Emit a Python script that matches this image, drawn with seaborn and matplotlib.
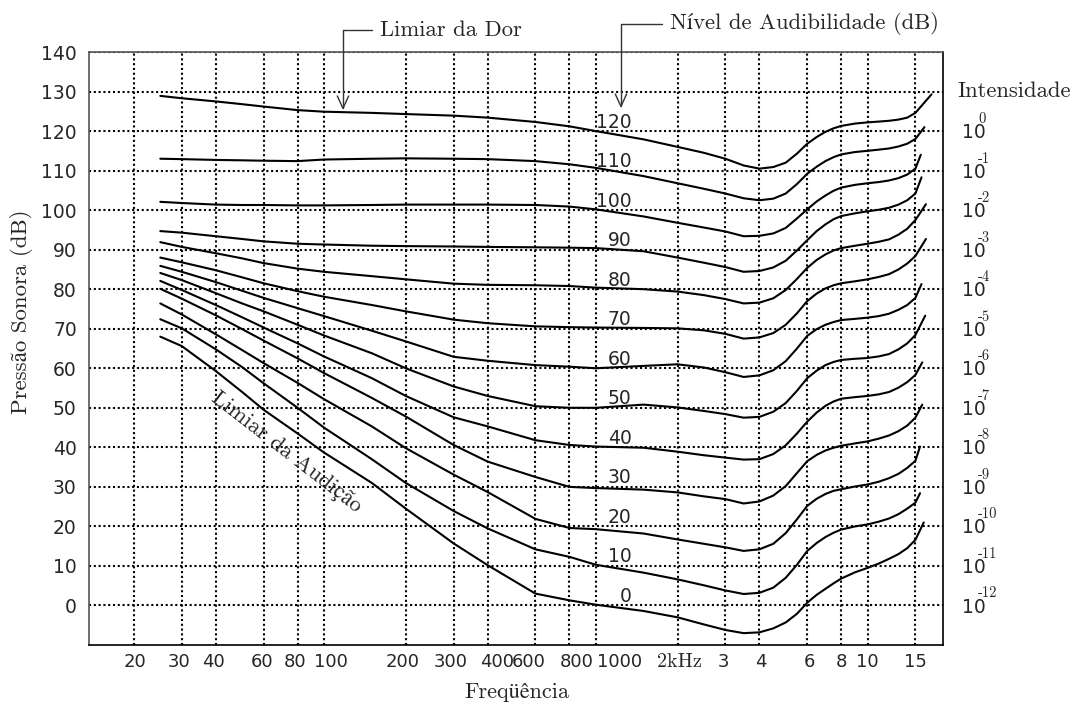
import matplotlib
matplotlib.use("Agg")
import matplotlib.pyplot as plt
import matplotlib.transforms as mtransforms
from matplotlib.ticker import NullLocator, FixedLocator
import numpy as np
import pandas as pd
import seaborn as sns

# ---------------- data ----------------
freqs = [25, 30, 40, 50, 60, 80, 100, 150, 200, 300, 400, 600, 800, 1000, 1500,
         2000, 2500, 3000, 3500, 4000, 4500, 5000, 5500, 6000, 6500, 7000, 7500, 8000,
         9000, 10000, 11000, 12000, 13000, 14000, 15000]

levels = [0, 10, 20, 30, 40, 50, 60, 70, 80, 90, 100, 110, 120]

spl_0 = [68.0, 65.6, 59.3, 54.0, 49.5, 43.5, 38.7, 31.0, 24.5, 15.7, 10.2, 3.0, 1.3, 0.2, -1.4,
         -3.0, -4.8, -6.2, -7.0, -6.8, -5.8, -4.3, -2.1, 0.7, 2.7, 4.2, 5.6, 6.8,
         8.4, 9.5, 10.6, 11.8, 13.0, 14.5, 16.6]
spl_10 = [72.4, 70.1, 64.8, 60.3, 56.2, 50.0, 45.0, 37.0, 31.0, 23.9, 19.5, 14.2, 12.3, 10.3, 8.3,
          6.6, 5.1, 3.8, 2.9, 3.2, 4.5, 7.0, 10.3, 13.8, 15.8, 17.3, 18.4, 19.2,
          20.0, 20.5, 21.2, 22.0, 23.1, 24.5, 26.0]
spl_20 = [76.4, 73.6, 68.6, 64.6, 61.3, 56.3, 52.2, 45.3, 39.8, 33.1, 28.7, 21.9, 19.6, 19.3, 18.2,
          16.7, 15.6, 14.7, 13.8, 14.2, 15.6, 18.3, 21.8, 25.2, 27.0, 28.2, 29.0, 29.4,
          30.1, 30.6, 31.3, 32.2, 33.3, 34.8, 36.6]
spl_30 = [80.1, 77.6, 73.4, 69.9, 67.0, 62.5, 58.8, 52.5, 47.8, 40.6, 36.4, 32.5, 30.0, 29.7, 29.3,
          28.6, 27.6, 26.9, 25.8, 26.3, 27.8, 30.2, 33.5, 36.5, 38.1, 39.2, 39.9, 40.4,
          41.0, 41.5, 42.2, 43.0, 44.1, 45.5, 47.5]
spl_40 = [82.1, 79.8, 76.0, 72.9, 70.3, 66.3, 63.0, 57.5, 53.0, 47.6, 45.3, 41.8, 40.6, 40.2, 39.9,
          38.9, 38.0, 37.4, 36.9, 37.0, 38.3, 40.5, 43.5, 46.5, 48.8, 50.5, 51.6, 52.3,
          52.7, 53.0, 53.4, 54.0, 55.1, 56.5, 58.3]
spl_50 = [84.1, 82.3, 79.0, 76.4, 74.4, 71.0, 68.3, 63.8, 60.0, 55.4, 53.0, 50.4, 50.0, 50.0, 50.8,
          50.1, 49.2, 48.4, 47.5, 47.7, 49.0, 51.2, 54.3, 57.5, 59.4, 60.8, 61.6, 62.1,
          62.4, 62.6, 63.0, 63.6, 64.8, 66.3, 68.4]
spl_60 = [85.9, 84.4, 81.8, 79.6, 77.8, 75.2, 73.2, 69.5, 66.8, 62.9, 61.9, 60.8, 60.4, 60.0, 60.6,
          61.0, 60.2, 59.0, 57.8, 58.2, 59.5, 61.8, 65.0, 68.2, 69.9, 71.0, 71.7, 72.2,
          72.5, 72.8, 73.2, 73.8, 74.8, 76.0, 77.8]
spl_70 = [88.0, 86.8, 84.8, 83.0, 81.5, 79.5, 78.1, 76.0, 74.4, 72.3, 71.4, 70.6, 70.4, 70.3, 70.2,
          70.1, 69.6, 68.7, 67.5, 67.8, 68.9, 71.0, 73.9, 77.0, 78.9, 80.2, 81.0, 81.5,
          82.0, 82.5, 83.1, 83.8, 85.0, 86.5, 88.4]
spl_80 = [91.9, 90.7, 89.1, 87.8, 86.6, 85.2, 84.4, 83.3, 82.5, 81.4, 81.1, 81.0, 80.8, 80.4, 80.0,
          79.4, 78.5, 77.5, 76.4, 76.6, 77.7, 79.8, 82.6, 85.4, 87.4, 88.8, 89.8, 90.4,
          91.0, 91.5, 92.0, 92.6, 93.8, 95.3, 97.5]
spl_90 = [94.7, 94.3, 93.4, 92.7, 92.1, 91.5, 91.3, 91.0, 90.9, 90.8, 90.7, 90.6, 90.5, 90.4, 89.6,
          88.0, 86.7, 85.6, 84.4, 84.6, 85.5, 87.2, 89.8, 92.4, 94.7, 96.4, 97.7, 98.5,
          99.2, 99.7, 100.1, 100.6, 101.4, 102.5, 104.2]
spl_100 = [102.1, 101.8, 101.4, 101.3, 101.3, 101.2, 101.2, 101.3, 101.4, 101.4, 101.4, 101.3, 100.9, 100.2, 98.4,
           96.8, 95.6, 94.6, 93.4, 93.5, 94.1, 95.5, 97.9, 100.2, 102.2, 103.7, 104.9, 105.7,
           106.4, 106.8, 107.1, 107.5, 108.1, 109.0, 110.5]
spl_110 = [113.0, 112.9, 112.7, 112.6, 112.5, 112.4, 112.8, 113.0, 113.1, 113.0, 112.9, 112.4, 111.6, 110.7, 108.6,
           106.8, 105.4, 104.2, 103.0, 102.5, 102.9, 104.2, 106.6, 109.2, 111.0, 112.4, 113.4, 114.1,
           114.7, 115.0, 115.3, 115.6, 116.1, 116.8, 118.0]
spl_120 = [128.9, 128.3, 127.5, 126.8, 126.2, 125.3, 124.9, 124.6, 124.3, 123.9, 123.4, 122.3, 121.2, 120.0, 117.9,
           116.0, 114.5, 113.0, 111.3, 110.5, 110.9, 112.0, 114.3, 116.8, 118.5, 119.8, 120.7, 121.3,
           121.9, 122.2, 122.4, 122.6, 122.9, 123.4, 124.6]

end_freqs = [16100, 15600, 15600, 15900, 15900, 16300, 15800, 16400, 16400, 15800, 15700, 16200, 17200]
end_spl = [21.0, 28.4, 40.2, 50.8, 61.5, 73.3, 81.3, 92.7, 101.5, 108.3, 114.0, 121.0, 129.3]

x_ticks = [20, 30, 40, 60, 80, 100, 200, 300, 400, 600, 800, 1000, 2000, 3000, 4000, 6000, 8000, 10000, 15000]
x_tick_labels = ["20", "30", "40", "60", "80", "100", "200", "300", "400", "600", "800", "1000",
                 "2kHz", "3", "4", "6", "8", "10", "15"]
y_ticks = [0, 10, 20, 30, 40, 50, 60, 70, 80, 90, 100, 110, 120, 130, 140]
intensity_levels = [120, 110, 100, 90, 80, 70, 60, 50, 40, 30, 20, 10, 0]
intensity_exponents = ["0", "-1", "-2", "-3", "-4", "-5", "-6", "-7", "-8", "-9", "-10", "-11", "-12"]

# horizontal nudges (pixels) of the x tick labels, as set in the original
x_label_nudge_px = [1, -3, -2.6, -1.7, -2.7, 7, -2.8, -3.4, 9, -6.5, 7.6, 24,
                    1.4, -1.5, 1.4, 2.6, 0.6, 0, 0]

series = [spl_0, spl_10, spl_20, spl_30, spl_40, spl_50, spl_60, spl_70, spl_80,
          spl_90, spl_100, spl_110, spl_120]

rows = []
for lvl, vals, ef, ev in zip(levels, series, end_freqs, end_spl):
    for f, v in zip(freqs + [ef], vals + [ev]):
        rows.append({"level": lvl, "freq": f, "spl": v})
df = pd.DataFrame(rows)

# ---------------- style ----------------
sns.set_style("white")
SANS = ["DejaVu Sans"]
SERIF = ["cmr10", "STIXGeneral", "DejaVu Serif"]
plt.rcParams["font.family"] = SANS
plt.rcParams["axes.unicode_minus"] = False

fig = plt.figure(figsize=(10.72, 7.06), dpi=100)
ax = fig.add_axes([89.3 / 1072, 61 / 706, 854 / 1072, 593 / 706])

sns.lineplot(data=df, x="freq", y="spl", units="level", estimator=None,
             color="black", linewidth=1.5, ax=ax, legend=False)
for ln in ax.get_lines():
    ln.set_solid_joinstyle("round")

ax.set_xscale("log")
ax.set_xlim(13.7, 19000)
ax.set_ylim(-10, 140)

ax.xaxis.set_major_locator(FixedLocator(x_ticks))
ax.xaxis.set_minor_locator(NullLocator())
ax.set_xticklabels([""] * len(x_ticks))
ax.set_yticks(y_ticks)

ax.grid(True, which="major", color="black", linestyle=(0, (1, 1.3)), linewidth=1.5)
ax.set_axisbelow(True)

ax.tick_params(axis="both", length=0)
ax.tick_params(axis="y", labelsize=13.5, pad=9)

# x tick labels drawn as text so that they can sit where the original put them
xtrans = mtransforms.blended_transform_factory(ax.transData, ax.transAxes)
for f, lab, dx in zip(x_ticks, x_tick_labels, x_label_nudge_px):
    off = mtransforms.ScaledTranslation(dx / 100.0, 0, fig.dpi_scale_trans)
    if lab == "2kHz":
        ax.text(f, -0.0287, lab, transform=xtrans + off, ha="center", va="center",
                fontfamily=SERIF, fontsize=14.5, clip_on=False)
    else:
        ax.text(f, -0.0287, lab, transform=xtrans + off, ha="center", va="center",
                fontfamily=SANS, fontsize=13, clip_on=False)

for side in ["left", "top"]:
    ax.spines[side].set_color("#555555")
    ax.spines[side].set_linewidth(1.2)
for side in ["right", "bottom"]:
    ax.spines[side].set_color("black")
    ax.spines[side].set_linewidth(1.2)

ax.set_xlabel("Freqüência", fontfamily=SERIF, fontsize=16)
ax.xaxis.label.set_va("center")
ax.xaxis.set_label_coords(0.5, -0.079)
ax.set_ylabel("Pressão Sonora (dB)", fontfamily=SERIF, fontsize=16.5)
ax.yaxis.label.set_va("center")
ax.yaxis.set_label_coords(-0.079, 0.562)

# curve labels
for lvl in levels:
    ax.text(1355, lvl + 0.9, str(lvl), ha="right", va="baseline", fontsize=13.5,
            fontfamily=SANS)

# right-hand intensity scale
trans = mtransforms.blended_transform_factory(ax.transAxes, ax.transData)
ax.text(1.016, 130, "Intensidade", transform=trans, ha="left", va="center",
        fontfamily=SERIF, fontsize=16.3, clip_on=False)
for lvl, ex in zip(intensity_levels, intensity_exponents):
    ax.text(1.0215, lvl - 0.4, "10", transform=trans, ha="left", va="center",
            fontsize=13.5, fontfamily=SANS, clip_on=False)
    ax.text(1.0405, lvl + 3.0, ex, transform=trans, ha="left", va="center",
            fontsize=10.5, fontfamily=SERIF, clip_on=False)

# annotations
arrow_kw = dict(arrowstyle="->,head_length=0.55,head_width=0.25",
                connectionstyle="angle,angleA=0,angleB=90,rad=0",
                relpos=(0, 0.5), shrinkA=3, shrinkB=0, color="#333333", lw=1.0)
ax.annotate("Limiar da Dor", xy=(117.5, 125.3), xytext=(160.7, 145.6),
            textcoords="data", ha="left", va="center", fontfamily=SERIF,
            fontsize=16.3, arrowprops=arrow_kw, annotation_clip=False)
ax.annotate("Nível de Audibilidade (dB)", xy=(1238, 125.8), xytext=(1870, 147.1),
            textcoords="data", ha="left", va="center", fontfamily=SERIF,
            fontsize=16.3, arrowprops=arrow_kw, annotation_clip=False)

ax.text(72.4, 38.8, "Limiar da Audição", rotation=-37.75, rotation_mode="anchor",
        ha="center", va="center", fontfamily=SERIF, fontsize=16.3)

fig.savefig("out.png", dpi=100)
